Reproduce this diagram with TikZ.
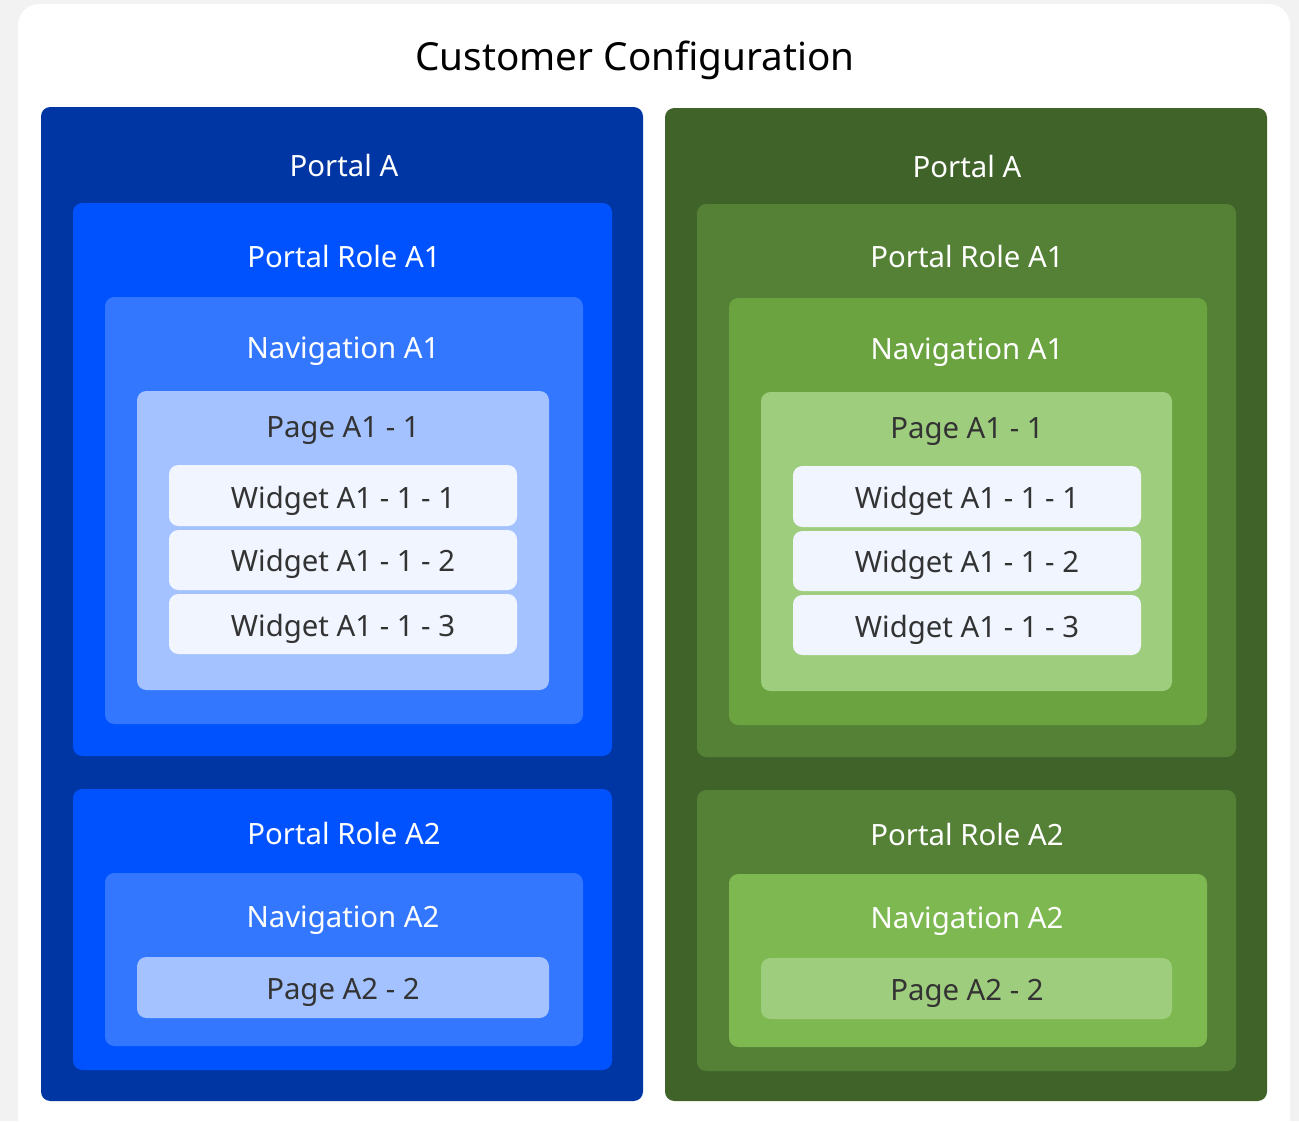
\documentclass[tikz,border=0pt]{standalone}
\usepackage{fontspec}
\setmainfont{Noto Sans}
\definecolor{pageBg}{HTML}{F2F2F2}
\definecolor{bluePortal}{HTML}{0036A3}
\definecolor{blueRole}{HTML}{0052FF}
\definecolor{blueNav}{HTML}{3377FF}
\definecolor{bluePage}{HTML}{A3C2FF}
\definecolor{greenPortal}{HTML}{40632A}
\definecolor{greenRole}{HTML}{548135}
\definecolor{greenNav}{HTML}{6AA340}
\definecolor{greenNavB}{HTML}{7DB851}
\definecolor{greenPage}{HTML}{9ECD7D}
\definecolor{widgetFill}{HTML}{F0F5FF}
\definecolor{darkText}{HTML}{333333}
\tikzset{
  lbl/.style={anchor=base,text=white,font=\fontsize{22}{26}\selectfont},
  dlbl/.style={lbl,text=darkText},
  box/.style={rounded corners=7pt}
}
\begin{document}
\begin{tikzpicture}[x=0.75pt,y=-0.75pt]
	\clip (0,0) rectangle (1299,1121);
	\fill[pageBg] (0,0) rectangle (1299,1121);
	\fill[white,rounded corners=16pt] (18,4) rectangle (1290,1150);
	\node[anchor=base,font=\fontsize{29}{34}\selectfont] (title) at (635,70){Customer Configuration};
	
	% blue side
	\fill[box,bluePortal] (41,107) rectangle (643,1101);
	\fill[box,blueRole] (73,203) rectangle (612,756);
	\fill[box,blueNav] (105,297) rectangle (583,724);
	\fill[box,bluePage] (137,391) rectangle (549,690);
	\fill[box,widgetFill] (169,465) rectangle (517,526);
	\fill[box,widgetFill] (169,530) rectangle (517,590);
	\fill[box,widgetFill] (169,594) rectangle (517,654);
	\fill[box,blueRole] (73,789) rectangle (612,1070);
	\fill[box,blueNav] (105,873) rectangle (583,1046);
	\fill[box,bluePage] (137,957) rectangle (549,1018);
	
	\node[lbl] (portalL) at (344,176){Portal A};
	\node[lbl] (roleLa) at (344,267){Portal Role A1};
	\node[lbl] (navLa) at (343,358){Navigation A1};
	\node[dlbl] (pageLa) at (343,437){Page A1 - 1};
	\node[dlbl] (wLa) at (343,508){Widget A1 - 1 - 1};
	\node[dlbl] (wLb) at (343,571){Widget A1 - 1 - 2};
	\node[dlbl] (wLc) at (343,636){Widget A1 - 1 - 3};
	\node[lbl] (roleLb) at (344,844){Portal Role A2};
	\node[lbl] (navLb) at (343,927){Navigation A2};
	\node[dlbl] (pageLb) at (343,999){Page A2 - 2};
	
	% green side
	\fill[box,greenPortal] (665,108) rectangle (1267,1101);
	\fill[box,greenRole] (697,204) rectangle (1236,757);
	\fill[box,greenNav] (729,298) rectangle (1207,725);
	\fill[box,greenPage] (761,392) rectangle (1172,691);
	\fill[box,widgetFill] (793,466) rectangle (1141,527);
	\fill[box,widgetFill] (793,531) rectangle (1141,591);
	\fill[box,widgetFill] (793,595) rectangle (1141,655);
	\fill[box,greenRole] (697,790) rectangle (1236,1071);
	\fill[box,greenNavB] (729,874) rectangle (1207,1047);
	\fill[box,greenPage] (761,958) rectangle (1172,1019);
	
	\node[lbl] (portalR) at (967,177){Portal A};
	\node[lbl] (roleRa) at (967,267){Portal Role A1};
	\node[lbl] (navRa) at (967,359){Navigation A1};
	\node[dlbl] (pageRa) at (967,438){Page A1 - 1};
	\node[dlbl] (wRa) at (967,508){Widget A1 - 1 - 1};
	\node[dlbl] (wRb) at (967,572){Widget A1 - 1 - 2};
	\node[dlbl] (wRc) at (967,637){Widget A1 - 1 - 3};
	\node[lbl] (roleRb) at (967,845){Portal Role A2};
	\node[lbl] (navRb) at (967,928){Navigation A2};
	\node[dlbl] (pageRb) at (967,1000){Page A2 - 2};
\end{tikzpicture}
\end{document}
